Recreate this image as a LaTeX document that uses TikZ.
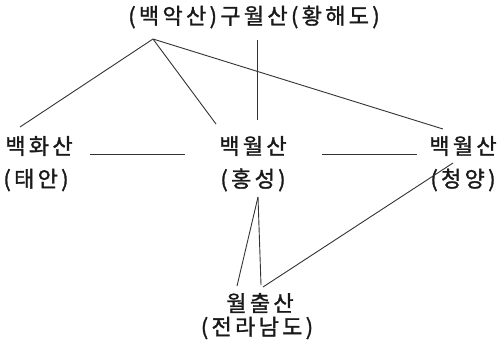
\documentclass[tikz,border=0pt]{standalone}
\usepackage{fontspec}
\setmainfont{Noto Sans CJK KR}[LetterSpace=15,FakeBold=1.3]
\begin{document}
\begin{tikzpicture}[x=1pt,y=-1pt,
  lbl/.style={inner sep=0pt,font=\fontsize{22}{24}\selectfont,text=black!90},
  conn/.style={draw=black!80,line width=0.9pt}]
\useasboundingbox (0,0) rectangle (503,349);
% labels
\node[lbl] (top) at (254,17) {(백악산)구월산(황해도)};
\node[lbl] (bh) at (39,146) {백화산};
\node[lbl] (bhs) at (36,180) {(태안)};
\node[lbl] (bw) at (253,146) {백월산};
\node[lbl] (bws) at (253,180) {(홍성)};
\node[lbl] (bc) at (463,146) {백월산};
\node[lbl] (bcs) at (463,180) {(청양)};
\node[lbl] (wc) at (260,303) {월출산};
\node[lbl] (wcs) at (257,328) {(전라남도)};
% connector end points
\coordinate (apex) at (153,39);
\coordinate (gw) at (257,40);
\coordinate (bhT) at (20,127);
\coordinate (bwT1) at (216,124);
\coordinate (bwT2) at (257,120);
\coordinate (bcT) at (443,129);
\coordinate (bhR) at (90,154);
\coordinate (bwL) at (185,154);
\coordinate (bwR) at (322,154);
\coordinate (bcL) at (417,154);
\coordinate (bwB) at (258,197);
\coordinate (wcT1) at (237,286);
\coordinate (wcT2) at (261,285);
\coordinate (wcT3) at (263,287);
\coordinate (bcB) at (453,163);
% connectors
\draw[conn] (apex) -- (bhT);
\draw[conn] (apex) -- (bwT1);
\draw[conn] (apex) -- (bcT);
\draw[conn] (gw) -- (bwT2);
\draw[conn] (bhR) -- (bwL);
\draw[conn] (bwR) -- (bcL);
\draw[conn] (bwB) -- (wcT1);
\draw[conn] (bwB) -- (wcT2);
\draw[conn] (wcT3) -- (bcB);
\end{tikzpicture}
\end{document}
